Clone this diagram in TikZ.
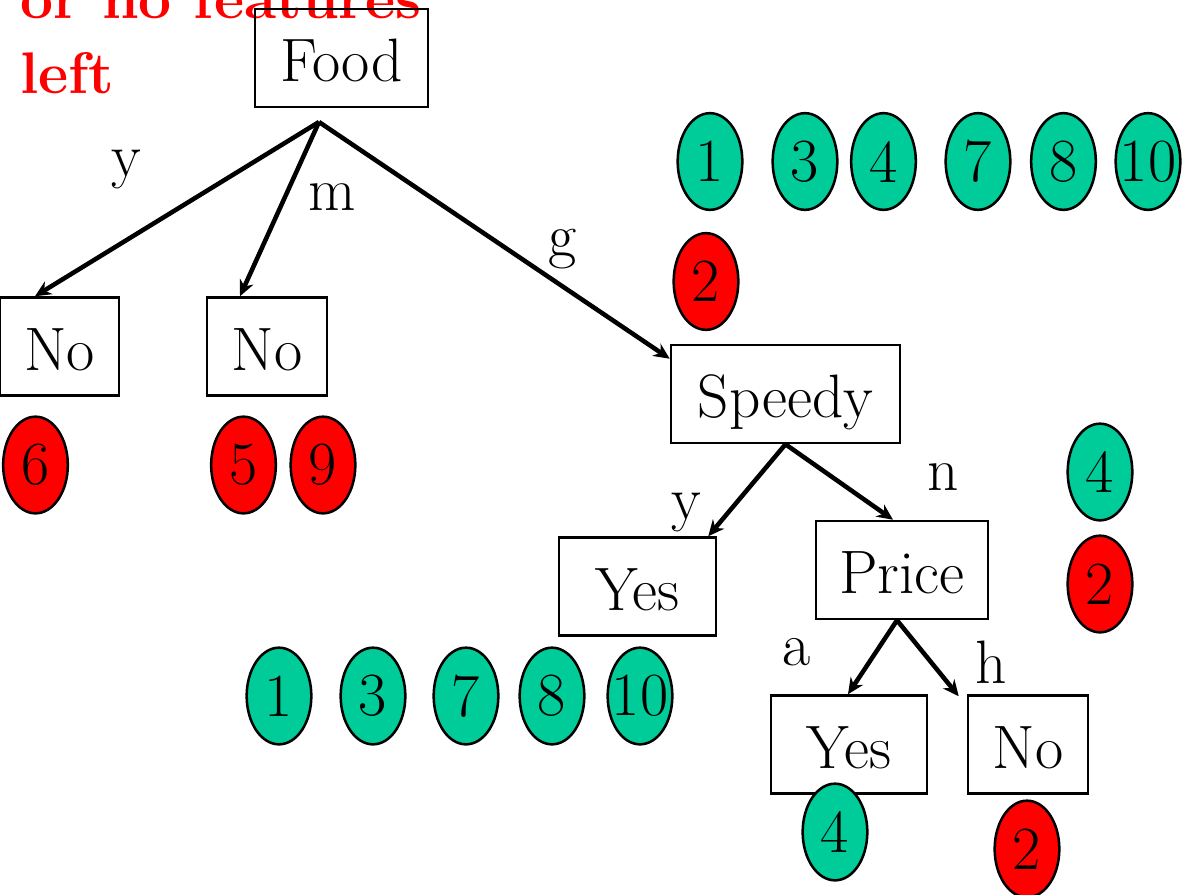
\documentclass[tikz,border=0pt]{standalone}
\usetikzlibrary{shapes.geometric,arrows.meta,calc}
\definecolor{posgreen}{RGB}{0,204,153}
\definecolor{negred}{RGB}{255,0,0}
\tikzset{
  every node/.style={font=\fontsize{46}{56}\selectfont},
  treebox/.style={draw=black, line width=1.9pt, rectangle, inner xsep=4pt,
    inner ysep=0pt, minimum height=73.5pt, text height=40pt, text depth=4.75pt},
  oval/.style={draw=black, line width=1.9pt, ellipse, inner sep=0pt,
    minimum width=48.5pt, minimum height=72.5pt},
  posoval/.style={oval, fill=posgreen},
  negoval/.style={oval, fill=negred},
  branch/.style={line width=3.4pt, -{Stealth[length=12pt,width=11pt]}},
  edgelabel/.style={anchor=base, inner sep=0pt},
  note/.style={anchor=base west, inner sep=0pt, text=negred,
    font=\fontsize{44}{56}\selectfont\bfseries}
}
% digits in the example ovals are allowed to fill the oval
\newcommand{\ex}[1]{\makebox[0pt]{#1}}
\begin{document}
\begin{tikzpicture}[x=0.75pt,y=-0.75pt]
\useasboundingbox (0,0) rectangle (1190,894);
\clip (0,0) rectangle (1190,894);

% red remark in the corner
\node[note] (note1) at (20,18) {or no features};
\node[note] (note2) at (20,93) {left};

% decision nodes and leaves
\node[treebox, minimum width=129.75pt] (food) at (341.5,58) {Food};
\node[treebox, minimum width=89.25pt] (no1) at (59.5,346.5) {No};
\node[treebox, minimum width=90pt] (no2) at (267,346.5) {No};
\node[treebox, minimum width=171.75pt] (speedy) at (785.5,394) {Speedy};
\node[treebox, minimum width=117.75pt] (yes1) at (637.5,586.5) {Yes};
\node[treebox, minimum width=129pt] (price) at (902,570) {Price};
\node[treebox, minimum width=117pt] (yes2) at (849,744.5) {Yes};
\node[treebox, minimum width=90pt] (no3) at (1028,744.5) {No};

% branches
\coordinate (fork) at (319,122);
\draw[branch] (fork) -- ($(no1.north)+(-24.5,0)$);
\draw[branch] (fork) -- ($(no2.north)+(-27,0)$);
\draw[branch] (fork) -- ($(speedy.north west)+(0,15)$);
\draw[branch] (speedy.south) -- ($(yes1.north east)+(-9,0)$);
\draw[branch] (speedy.south) -- ($(price.north)+(-9,0)$);
\draw[branch] ($(price.south)+(-5,0)$) -- ($(yes2.north)+(-1,0)$);
\draw[branch] ($(price.south)+(-5,0)$) -- ($(no3.north west)+(-8,2)$);

% branch labels
\node[edgelabel] (ly) at (126,176) {y};
\node[edgelabel] (lm) at (332,210) {m};
\node[edgelabel] (lg) at (563,256) {g};
\node[edgelabel] (ly2) at (686,519) {y};
\node[edgelabel] (ln) at (943,490) {n};
\node[edgelabel] (la) at (797,665) {a};
\node[edgelabel] (lh) at (991,683) {h};

% examples at the root
\node[posoval] (r1) at (710,161.5) {\ex{1}};
\node[posoval] (r3) at (805,161.5) {\ex{3}};
\node[posoval] (r4) at (883.5,161.5) {\ex{4}};
\node[posoval] (r7) at (978,161.5) {\ex{7}};
\node[posoval] (r8) at (1063.5,161.5) {\ex{8}};
\node[posoval] (r10) at (1148,161.5) {\ex{10}};
\node[negoval] (r2) at (706,281.5) {\ex{2}};

% examples at the left leaves
\node[negoval] (a6) at (35.5,465) {\ex{6}};
\node[negoval] (b5) at (243.5,465) {\ex{5}};
\node[negoval] (b9) at (323,465) {\ex{9}};

% examples reaching Price
\node[posoval] (p4) at (1100,472) {\ex{4}};
\node[negoval] (p2) at (1100,584) {\ex{2}};

% examples at the Yes leaf under Speedy
\node[posoval] (s1) at (279,696) {\ex{1}};
\node[posoval] (s3) at (373,696) {\ex{3}};
\node[posoval] (s7) at (466,696) {\ex{7}};
\node[posoval] (s8) at (552,696) {\ex{8}};
\node[posoval] (s10) at (640,696) {\ex{10}};

% examples at the Price leaves
\node[posoval] (y4) at (835,832) {\ex{4}};
\node[negoval] (n2) at (1027,849) {\ex{2}};
\end{tikzpicture}
\end{document}
